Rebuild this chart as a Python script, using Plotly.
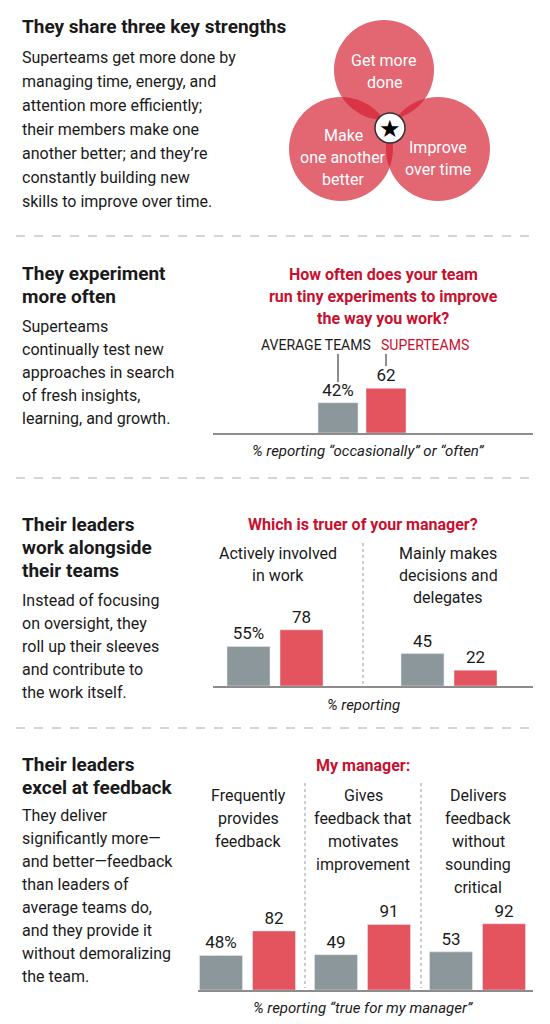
import plotly.graph_objects as go

W, H = 550, 1024
RED = "#e3545f"
GRAY = "#8c979c"
RED_TXT = "#c8102e"
INK = "#1a1a1a"
FONT = "Roboto"

# chart data
exp_labels = ["Experiment"]
exp_avg = [42]
exp_super = [62]

lead_labels = ["Actively involved", "Mainly makes decisions"]
lead_avg = [55, 45]
lead_super = [78, 22]

fb_labels = ["Frequently", "Motivates", "Not critical"]
fb_avg = [48, 49, 53]
fb_super = [82, 91, 92]


def px(x):
    return x / W


def py(y):
    return 1 - y / H


fig = go.Figure()


def add_chart(n, cats, avg, sup, x0, x1, base, bar_px, gap_px):
    xa, ya = f"x{n}", f"y{n}"
    slot = (x1 - x0) / len(cats)
    w = bar_px / slot
    half = (2 * bar_px + gap_px) / 2 / slot
    avg_txt = [f"{v}%" if i == 0 else str(v) for i, v in enumerate(avg)]
    fig.add_trace(go.Bar(x=cats, y=avg, marker_color=GRAY, text=avg_txt, textposition="outside",
                         width=w, offset=-half,
                         textfont=dict(size=17, color=INK, family=FONT), cliponaxis=False,
                         xaxis=xa, yaxis=ya, showlegend=False))
    fig.add_trace(go.Bar(x=cats, y=sup, marker_color=RED, text=[str(v) for v in sup], textposition="outside",
                         width=w, offset=half - w,
                         textfont=dict(size=17, color=INK, family=FONT), cliponaxis=False,
                         xaxis=xa, yaxis=ya, showlegend=False))
    key = "" if n == 1 else str(n)
    fig.layout["xaxis" + key] = dict(domain=[px(x0), px(x1)], anchor=ya, visible=False)
    fig.layout["yaxis" + key] = dict(domain=[py(base), py(base - 72)], range=[0, 100],
                                     anchor=xa, visible=False)


add_chart(1, exp_labels, exp_avg, exp_super, 305, 403, 425, 40, 8)
add_chart(2, lead_labels, lead_avg, lead_super, 180, 528, 678, 43, 10)
add_chart(3, fb_labels, fb_avg, fb_super, 182, 527, 982, 43, 10)

ann = []


def text(x, y, s, size=16, color=INK, bold=False, italic=False, anchor="left"):
    if bold:
        s = f"<b>{s}</b>"
    if italic:
        s = f"<i>{s}</i>"
    ann.append(dict(x=px(x), y=py(y), xref="paper", yref="paper", text=s, showarrow=False,
                    xanchor=anchor, yanchor="middle", align=anchor if anchor != "center" else "center",
                    font=dict(size=size, color=color, family=FONT)))


def lines(x, y0, items, step=24, **kw):
    for i, s in enumerate(items):
        text(x, y0 + i * step, s, **kw)


# section 1
text(12, 18, "They share three key strengths", size=19, bold=True)
lines(12, 49, ["Superteams get more done by", "managing time, energy, and",
               "attention more efficiently;", "their members make one",
               "another better; and they’re", "constantly building new",
               "skills to improve over time."], step=24)

# section 2
lines(12, 265, ["They experiment", "more often"], step=23, size=19, bold=True)
lines(12, 318, ["Superteams", "continually test new", "approaches in search",
                "of fresh insights,", "learning, and growth."], step=23)
lines(375, 266, ["How often does your team", "run tiny experiments to improve",
                 "the way you work?"], step=22, size=16, color=RED_TXT, bold=True, anchor="center")
text(365, 337, "AVERAGE TEAMS", size=14, anchor="right")
text(371, 337, "SUPERTEAMS", size=14, color=RED_TXT)
text(360, 443, "% reporting “occasionally” or “often”", size=15, italic=True, anchor="center")

# section 3
lines(12, 516, ["Their leaders", "work alongside", "their teams"], step=23, size=19, bold=True)
lines(12, 592, ["Instead of focusing", "on oversight, they", "roll up their sleeves",
                "and contribute to", "the work itself."], step=23)
text(355, 516, "Which is truer of your manager?", size=16, color=RED_TXT, bold=True, anchor="center")
lines(270, 545, ["Actively involved", "in work"], step=22, anchor="center")
lines(440, 545, ["Mainly makes", "decisions and", "delegates"], step=22, anchor="center")
text(355, 697, "% reporting", size=15, italic=True, anchor="center")

# section 4
lines(12, 756, ["Their leaders", "excel at feedback"], step=23, size=19, bold=True)
lines(12, 807, ["They deliver", "significantly more—", "and better—feedback",
                "than leaders of", "average teams do,", "and they provide it",
                "without demoralizing", "the team."], step=23)
text(355, 757, "My manager:", size=16, color=RED_TXT, bold=True, anchor="center")
lines(240, 787, ["Frequently", "provides", "feedback"], step=23, anchor="center")
lines(355, 787, ["Gives", "feedback that", "motivates", "improvement"], step=23, anchor="center")
lines(470, 787, ["Delivers", "feedback", "without", "sounding", "critical"], step=23, anchor="center")
text(355, 1000, "% reporting “true for my manager”", size=15, italic=True, anchor="center")

# venn labels
lines(376, 52, ["Get more", "done"], step=22, color="white", anchor="center")
lines(335, 127, ["Make", "one another", "better"], step=22, color="white", anchor="center")
lines(430, 139, ["Improve", "over time"], step=22, color="white", anchor="center")
text(382, 121, "★", size=24, color="black", anchor="center")

shapes = []


def circle(cx, cy, r, color, line=None):
    shapes.append(dict(type="circle", xref="paper", yref="paper", x0=px(cx - r), x1=px(cx + r),
                       y0=py(cy + r), y1=py(cy - r), fillcolor=color, layer="below",
                       line=dict(width=0) if line is None else line))


circle(376, 62, 50, "rgba(214,30,48,0.68)")
circle(333, 141, 52, "rgba(214,30,48,0.68)")
circle(430, 141, 52, "rgba(214,30,48,0.68)")
circle(382, 120, 15, "white", line=dict(color="#333", width=1.5))


def hline(y, x0, x1, dash="solid", color=INK, width=1):
    shapes.append(dict(type="line", xref="paper", yref="paper", x0=px(x0), x1=px(x1),
                       y0=py(y), y1=py(y), line=dict(color=color, width=width, dash=dash)))


def vline(x, y0, y1):
    shapes.append(dict(type="line", xref="paper", yref="paper", x0=px(x), x1=px(x),
                       y0=py(y0), y1=py(y1), line=dict(color="#999", width=1, dash="dot")))


for y in (228, 470, 720):
    hline(y, 8, 525, dash="dash", color="#aaa")
hline(426, 205, 525)
hline(679, 205, 525)
hline(983, 190, 525)
vline(355, 535, 676)
vline(297, 775, 980)
vline(413, 775, 980)
# leader ticks for legend labels
shapes.append(dict(type="line", xref="paper", yref="paper", x0=px(330), x1=px(330),
                   y0=py(346), y1=py(374), line=dict(color=INK, width=1)))
shapes.append(dict(type="line", xref="paper", yref="paper", x0=px(378), x1=px(378),
                   y0=py(346), y1=py(358), line=dict(color=INK, width=1)))

fig.update_layout(width=W, height=H, margin=dict(l=0, r=0, t=0, b=0),
                  paper_bgcolor="white", plot_bgcolor="white",
                  barmode="overlay",
                  annotations=ann, shapes=shapes, font=dict(family=FONT))
fig.write_html("out.html")
